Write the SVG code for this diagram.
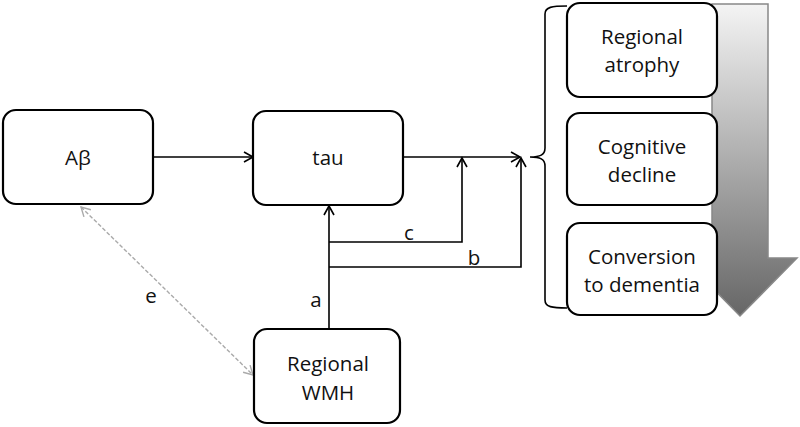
<svg xmlns="http://www.w3.org/2000/svg" width="800" height="427" viewBox="0 0 800 427">
<style>
.box{fill:#fff;stroke:#000;stroke-width:2.2}
.t{font-family:"Open Sans","Liberation Sans",sans-serif;font-size:20.5px;fill:#111;text-anchor:middle}
.ln{fill:none;stroke:#000;stroke-width:1.6}
.dash{fill:none;stroke:#aaa;stroke-width:1.4;stroke-dasharray:4 2}
</style>
<defs>
<marker id="ah" markerWidth="12" markerHeight="12" refX="10" refY="6" orient="auto" markerUnits="userSpaceOnUse">
<path d="M1,1 L10,6 L1,11" fill="none" stroke="#000" stroke-width="1.6"/>
</marker>
<marker id="ahg" markerWidth="12" markerHeight="12" refX="10" refY="6" orient="auto-start-reverse" markerUnits="userSpaceOnUse">
<path d="M1,1 L10,6 L1,11" fill="none" stroke="#aaa" stroke-width="1.4"/>
</marker>
<linearGradient id="gr" x1="0" y1="0" x2="0" y2="1">
<stop offset="0" stop-color="#f4f4f4"/>
<stop offset="1" stop-color="#666"/>
</linearGradient>
</defs>
<g id="bigarrow">
<path d="M712,4 L768,4 L768,258 L797,258 L740,316 L683,258 L712,258 Z" fill="url(#gr)" stroke="#888" stroke-width="1.5"/>
</g>
<g id="connectors">
<line class="ln" x1="153" y1="157" x2="253" y2="157" marker-end="url(#ah)"/>
<line class="ln" x1="403" y1="157" x2="520" y2="157" marker-end="url(#ah)"/>
<line class="ln" x1="329" y1="329" x2="329" y2="206" marker-end="url(#ah)"/>
<polyline class="ln" points="329,242 462,242 462,158" marker-end="url(#ah)"/>
<polyline class="ln" points="329,267 521,267 521,158" marker-end="url(#ah)"/>
<line class="dash" x1="81" y1="207" x2="253" y2="375" marker-start="url(#ahg)" marker-end="url(#ahg)"/>
<path class="ln" d="M567,6 C552,6 545,7 545,14 L545,148 C545,155 540,157 530,157 C540,157 545,159 545,166 L545,300 C545,307 552,308 567,308"/>
<text class="t" x="409" y="240">c</text>
<text class="t" x="474" y="265">b</text>
<text class="t" x="316" y="307">a</text>
<text class="t" x="151" y="303">e</text>
</g>
<g id="abeta">
<rect class="box" x="3" y="110" width="150" height="94" rx="13"/>
<text class="t" x="78" y="165">Aβ</text>
</g>
<g id="tau">
<rect class="box" x="253" y="111" width="150" height="94" rx="13"/>
<text class="t" x="328" y="165">tau</text>
</g>
<g id="wmh">
<rect class="box" x="254" y="329" width="146" height="94" rx="13"/>
<text class="t" x="328" y="371">Regional</text>
<text class="t" x="328" y="400">WMH</text>
</g>
<g id="atrophy">
<rect class="box" x="567" y="3" width="150" height="94" rx="13"/>
<text class="t" x="642" y="44">Regional</text>
<text class="t" x="642" y="72">atrophy</text>
</g>
<g id="cognitive">
<rect class="box" x="567" y="113" width="150" height="92" rx="13"/>
<text class="t" x="642" y="154">Cognitive</text>
<text class="t" x="642" y="182">decline</text>
</g>
<g id="conversion">
<rect class="box" x="567" y="223" width="150" height="92" rx="13"/>
<text class="t" x="642" y="264">Conversion</text>
<text class="t" x="642" y="292">to dementia</text>
</g>
</svg>
